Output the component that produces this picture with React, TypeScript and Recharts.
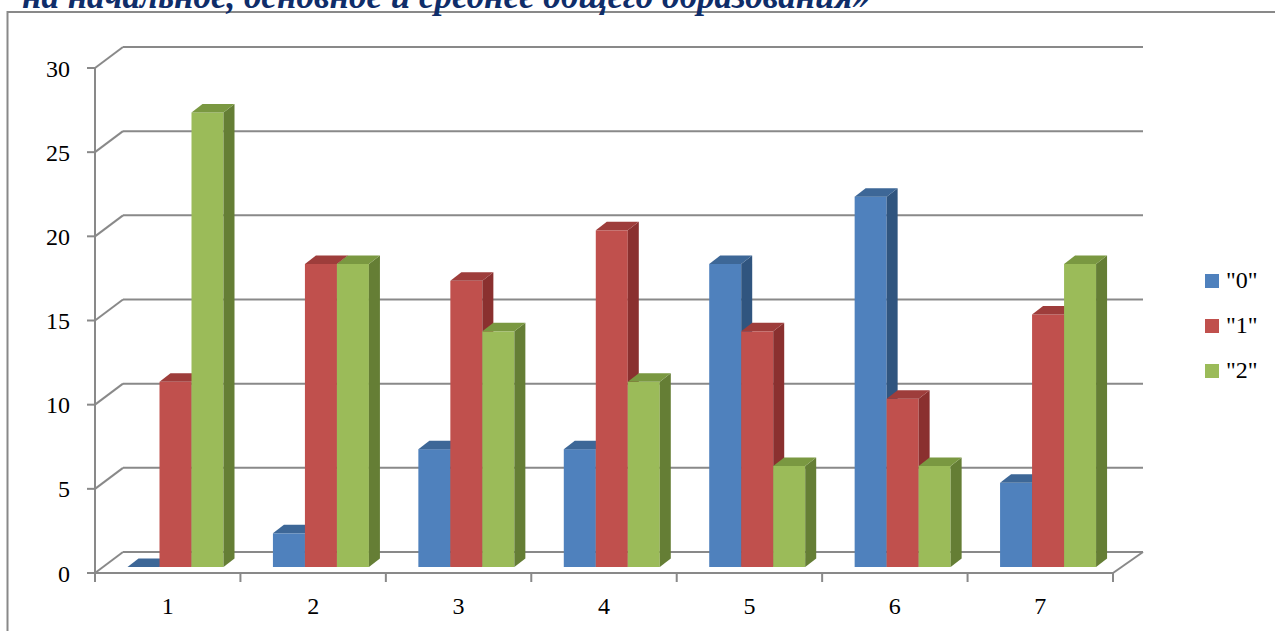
import React from 'react';
import { BarChart, Bar, XAxis, YAxis, CartesianGrid } from 'recharts';

const CATEGORIES = ['1', '2', '3', '4', '5', '6', '7'];
const SERIES_0 = [0, 2, 7, 7, 18, 22, 5];
const SERIES_1 = [11, 18, 17, 20, 14, 10, 15];
const SERIES_2 = [27, 18, 14, 11, 6, 6, 18];
const SERIES_NAMES = ['"0"', '"1"', '"2"'];
const Y_TICKS = [0, 5, 10, 15, 20, 25, 30];
const TITLE = 'на начальное, основное и среднее общего образования»';

const COLORS = [
  { front: '#4F81BD', top: '#3D6797', side: '#30557F' },
  { front: '#C0504D', top: '#9E3D3B', side: '#8A302F' },
  { front: '#9BBB59', top: '#7A9841', side: '#657E35' },
];

const W = 1275;
const H = 631;
const PLOT_LEFT = 95;
const PLOT_RIGHT = 1113;
const PLOT_TOP = 68;
const PLOT_BOTTOM = 573;
const GRID = '#898989';
const FONT = 'Liberation Serif';

// 3D geometry
const WALL_DX = 28;
const WALL_DY = -21;
const BAR_OX = 7.5;
const BAR_OY = -6;
const BAR_DX = 11;
const BAR_DY = -8.5;

const data = CATEGORIES.map((c, i) => ({
  name: c,
  s0: SERIES_0[i],
  s1: SERIES_1[i],
  s2: SERIES_2[i],
}));

const makeShape = (ci: number) => (props: any) => {
  const { x, y, width, height } = props;
  if (x == null || y == null) return null;
  const c = COLORS[ci];
  const fx = x + BAR_OX;
  const fy = y + BAR_OY;
  const h = Math.max(0, height);
  const topPts = `${fx},${fy} ${fx + BAR_DX},${fy + BAR_DY} ${fx + width + BAR_DX},${fy + BAR_DY} ${fx + width},${fy}`;
  const sidePts = `${fx + width},${fy} ${fx + width + BAR_DX},${fy + BAR_DY} ${fx + width + BAR_DX},${fy + h + BAR_DY} ${fx + width},${fy + h}`;
  return (
    <g>
      {h > 0 && <rect x={fx} y={fy} width={width} height={h} fill={c.front} />}
      {h > 0 && <polygon points={sidePts} fill={c.side} />}
      <polygon points={topPts} fill={c.top} />
    </g>
  );
};

const gridLine = (props: any) => {
  const { x1, y1, x2, key } = props;
  const isFloor = Math.abs(y1 - PLOT_BOTTOM) < 1;
  return (
    <g key={key}>
      <line x1={x1} y1={y1} x2={x1 + WALL_DX} y2={y1 + WALL_DY} stroke={GRID} strokeWidth={2} />
      <line x1={x1 + WALL_DX} y1={y1 + WALL_DY} x2={x2 + 30} y2={y1 + WALL_DY} stroke={GRID} strokeWidth={2} />
      {isFloor && (
        <line x1={x2} y1={y1} x2={x2 + 30} y2={y1 + WALL_DY} stroke={GRID} strokeWidth={2} />
      )}
    </g>
  );
};

const XTick = (props: any) => {
  const { x, y, payload, index, visibleTicksCount } = props;
  const off = payload && payload.offset ? payload.offset : (PLOT_RIGHT - PLOT_LEFT) / CATEGORIES.length / 2;
  return (
    <g>
      <line x1={x - off} y1={y} x2={x - off} y2={y + 9} stroke={GRID} strokeWidth={2} />
      {index === visibleTicksCount - 1 && (
        <line x1={x + off} y1={y} x2={x + off} y2={y + 9} stroke={GRID} strokeWidth={2} />
      )}
      <text x={x} y={y + 41} textAnchor="middle" fill="#000" fontSize={24} style={{ fontFamily: FONT }}>
        {payload.value}
      </text>
    </g>
  );
};

export default function App() {
  return (
    <div style={{ position: 'fixed', left: 0, top: 0, width: W, height: H, overflow: 'hidden', background: '#fff', fontFamily: FONT }}>
      <svg width={W} height={H} style={{ position: 'absolute', left: 0, top: 0 }}>
        <rect x={7.5} y={12} width={1400} height={800} fill="none" stroke={GRID} strokeWidth={2} />
        <text x={22} y={8} fill="#0F2D69" fontSize={35} fontWeight="bold" fontStyle="italic" style={{ fontFamily: FONT }}>
          {TITLE}
        </text>
      </svg>
      <div style={{ position: 'absolute', left: 0, top: 0 }}>
        <BarChart
          width={W}
          height={H}
          data={data}
          margin={{ top: PLOT_TOP, right: W - PLOT_RIGHT, bottom: 0, left: 0 }}
          barGap={0}
          barSize={32}
          style={{ fontFamily: FONT }}
        >
          <CartesianGrid vertical={false} horizontal={gridLine} />
          <XAxis
            dataKey="name"
            height={H - PLOT_BOTTOM}
            axisLine={{ stroke: GRID, strokeWidth: 2 }}
            tickLine={false}
            tickSize={0}
            tickMargin={0}
            tick={<XTick />}
            interval={0}
          />
          <YAxis
            width={PLOT_LEFT}
            domain={[0, 30]}
            ticks={Y_TICKS}
            interval={0}
            axisLine={{ stroke: GRID, strokeWidth: 2 }}
            tickLine={{ stroke: GRID, strokeWidth: 2 }}
            tickSize={8}
            tickMargin={17}
            tick={{ fill: '#000', fontSize: 24, style: { fontFamily: FONT } }}
          />
          <Bar dataKey="s0" name={SERIES_NAMES[0]} fill={COLORS[0].front} shape={makeShape(0)} isAnimationActive={false} />
          <Bar dataKey="s1" name={SERIES_NAMES[1]} fill={COLORS[1].front} shape={makeShape(1)} isAnimationActive={false} />
          <Bar dataKey="s2" name={SERIES_NAMES[2]} fill={COLORS[2].front} shape={makeShape(2)} isAnimationActive={false} />
        </BarChart>
      </div>
      <div style={{ position: 'absolute', left: 1205, top: 258, fontFamily: FONT, fontSize: 24, color: '#000' }}>
        {SERIES_NAMES.map((n, i) => (
          <div key={n} style={{ height: 45, display: 'flex', alignItems: 'center' }}>
            <span style={{ display: 'inline-block', width: 14, height: 14, background: COLORS[i].front, marginRight: 7 }} />
            <span>{n}</span>
          </div>
        ))}
      </div>
    </div>
  );
}
